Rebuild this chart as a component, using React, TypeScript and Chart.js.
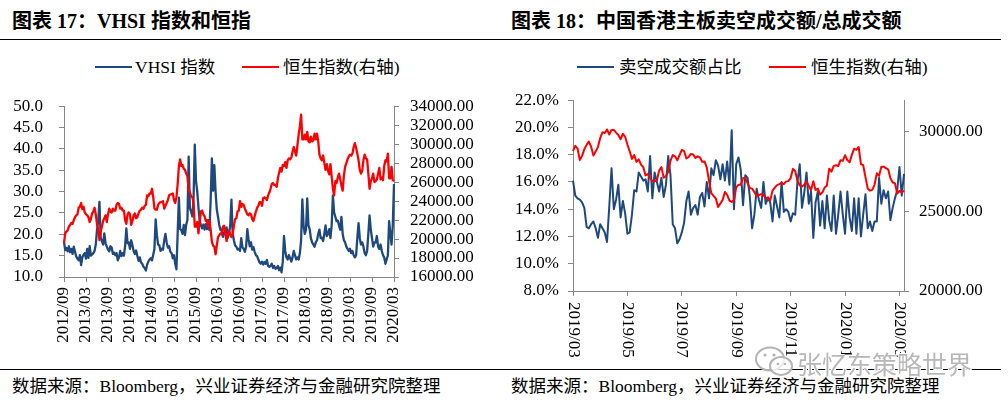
import React, { useEffect, useRef } from "react";
import { Chart, registerables } from "chart.js";

Chart.register(...registerables);

// ---------- colours / fonts ----------
const BLUE = "#1F497D";
const RED = "#FF0000";
const AXIS = "#868686";
const SERIF = "'Liberation Serif', 'Times New Roman', serif";
const MIXED = "'Liberation Serif', 'Noto Sans CJK SC', sans-serif";

// ---------- chart 17 : VHSI & HSI (3 readings per month, 2012/09 .. 2020/03) ----------
const leftTickLabels = [
  "2012/09", "2013/03", "2013/09", "2014/03", "2014/09", "2015/03", "2015/09", "2016/03",
  "2016/09", "2017/03", "2017/09", "2018/03", "2018/09", "2019/03", "2019/09", "2020/03",
];

const vhsi = [
  18.2, 16.3, 16.8, 16.0, 17.2, 15.8, 16.6, 15.4, 17.1, 15.9, 14.8, 14.3,
  13.9, 15.1, 12.8, 14.6, 15.2, 15.6, 14.3, 16.6, 14.5, 17.2, 15.0, 15.3,
  15.6, 16.1, 17.6, 21.0, 23.2, 27.6, 19.2, 18.4, 17.6, 20.2, 17.9, 17.1,
  16.4, 16.0, 17.2, 16.9, 15.4, 15.7, 15.1, 15.6, 13.9, 14.6, 16.1, 14.9,
  15.6, 15.0, 17.2, 21.4, 17.9, 18.1, 16.6, 18.6, 17.4, 16.1, 15.4, 16.2,
  14.9, 13.8, 14.6, 13.4, 13.1, 12.4, 12.1, 11.5, 12.9, 13.6, 14.1, 14.4,
  13.9, 15.2, 16.6, 23.5, 19.8, 17.6, 17.4, 16.1, 16.6, 16.4, 18.6, 20.1,
  18.1, 16.9, 17.2, 15.9, 15.6, 14.4, 15.1, 13.1, 11.8, 20.3, 28.6, 21.2,
  21.0, 20.1, 22.2, 19.8, 22.3, 23.4, 38.2, 26.1, 25.3, 24.2, 28.4, 41.0,
  32.5, 30.1, 26.3, 23.2, 22.1, 21.4, 22.3, 21.1, 22.4, 21.2, 23.3, 21.0,
  28.1, 37.8, 30.2, 36.2, 30.0, 25.8, 24.1, 22.2, 21.0, 21.1, 19.4, 20.2,
  21.2, 21.6, 19.2, 20.1, 22.1, 28.1, 20.2, 18.6, 17.4, 17.1, 16.4, 16.6,
  16.1, 19.1, 17.0, 16.6, 15.9, 17.1, 21.2, 18.8, 17.2, 18.1, 16.4, 17.0,
  15.9, 15.1, 14.9, 14.1, 13.4, 13.1, 13.6, 12.9, 13.5, 13.1, 14.0, 12.6,
  12.4, 12.6, 13.1, 12.1, 12.6, 11.9, 12.1, 12.6, 11.6, 12.2, 11.1, 13.6,
  19.6, 16.1, 14.6, 14.1, 15.1, 14.4, 13.6, 14.6, 16.1, 15.1, 14.1, 14.6,
  14.1, 15.6, 18.6, 28.2, 22.1, 20.1, 21.1, 28.4, 22.1, 21.2, 19.1, 18.1,
  17.6, 17.1, 18.1, 18.6, 20.1, 21.1, 19.1, 19.2, 18.4, 20.1, 22.1, 19.6,
  20.1, 21.2, 19.1, 22.1, 29.1, 25.1, 24.1, 23.1, 23.2, 22.1, 21.1, 24.1,
  20.1, 18.6, 18.1, 17.1, 16.6, 16.1, 16.6, 15.6, 16.1, 15.1, 14.6, 15.1,
  19.1, 22.6, 19.1, 17.6, 18.1, 17.1, 15.6, 15.1, 16.1, 20.1, 24.4, 21.1,
  19.1, 17.1, 18.1, 18.1, 19.6, 17.1, 16.6, 17.6, 16.1, 15.1, 14.6, 13.1,
  14.1, 15.1, 23.1, 20.1, 17.6, 22.1, 31.8,
];

const hsiLong = [
  19600, 20600, 20800, 20900, 21300, 21500, 21700, 21600, 22000, 22300, 22500, 22600,
  23300, 23400, 23800, 23150, 23400, 22800, 22600, 22500, 22300, 21800, 22100, 22700,
  22900, 23300, 22600, 21600, 21000, 19900, 20800, 21300, 21900, 22200, 22500, 21800,
  22600, 23200, 22900, 22800, 23200, 23000, 23000, 23600, 23800, 23700, 23200, 23300,
  23000, 23000, 22000, 21600, 22600, 22800, 22600, 21500, 21900, 22500, 22700, 22200,
  22300, 22700, 23000, 23100, 23300, 23200, 23500, 23600, 24600, 24500, 24800, 24800,
  25300, 24400, 23200, 23100, 23100, 23600, 23800, 23900, 23900, 24000, 23200, 23500,
  23800, 24100, 24600, 24700, 24700, 24800, 24100, 23800, 24400, 25800, 27700, 28400,
  27700, 27800, 27400, 27300, 26900, 26600, 25200, 24900, 24500, 24400, 23900, 21300,
  21300, 21800, 20600, 21800, 22900, 23000, 22600, 22400, 21900, 22000, 21300, 21900,
  21000, 19700, 19300, 19200, 18400, 19300, 20200, 20400, 20600, 20500, 21300, 21400,
  20600, 19800, 20500, 20900, 20500, 20200, 20500, 21400, 22100, 22200, 22900, 23000,
  24000, 23400, 23700, 23600, 23200, 22900, 22600, 22500, 22700, 22600, 22100, 21900,
  22400, 22900, 23300, 23500, 23900, 23900, 23500, 24300, 24400, 24300, 24100, 24600,
  24900, 25300, 25800, 25900, 25700, 25700, 25500, 26400, 27000, 27500, 27100, 27800,
  27700, 28100, 27500, 28300, 28500, 28400, 28600, 29200, 29700, 29200, 28800, 29900,
  31000, 31900, 33100, 30500, 30500, 31000, 30500, 31300, 30300, 30200, 30800, 30300,
  30400, 31100, 30500, 31100, 30300, 28900, 28500, 28300, 28800, 28000, 27300, 27900,
  27200, 26800, 27900, 26600, 25300, 24600, 26100, 25900, 26500, 26900, 26300, 25600,
  25100, 26700, 27600, 28000, 28400, 28700, 28900, 28800, 29000, 29700, 30100, 29600,
  29000, 28300, 27300, 26900, 27200, 28300, 28900, 28500, 28400, 26900, 25300, 26100,
  26400, 26900, 26000, 26100, 26300, 26900, 27500, 26300, 26500, 26200, 27700, 28300,
  28200, 29000, 26400, 26400, 27600, 26200, 26100,
];

// ---------- chart 18 : short-selling share & HSI (12 readings per month, 2019/03 .. 2020/03) ----------
const rightTickLabels = ["2019/03", "2019/05", "2019/07", "2019/09", "2019/11", "2020/01", "2020/03"];

const shortRatio = [
  16.1, 15.0, 14.8, 14.7, 14.5, 14.1, 12.7, 12.6, 12.9, 13.1, 12.6, 11.9,
  12.9, 12.6, 12.3, 11.6, 14.2, 17.0, 14.0, 14.7, 15.8, 13.4, 14.6, 13.7,
  12.2, 12.3, 13.6, 15.4, 15.3, 16.7, 16.4, 16.1, 16.2, 15.3, 17.9, 14.8,
  16.7, 16.0, 15.3, 16.3, 14.9, 15.8, 17.9, 16.5, 12.9, 12.6, 11.5, 11.8,
  12.3, 13.0, 14.6, 15.3, 13.6, 14.1, 14.3, 13.6, 14.9, 15.2, 14.2, 16.0,
  14.8, 17.0, 16.5, 17.6, 17.2, 16.2, 17.3, 16.1, 17.5, 15.8, 19.8, 14.0,
  17.3, 17.8, 16.9, 14.3, 16.5, 16.3, 14.9, 12.6, 13.6, 15.5, 14.7, 14.1,
  16.0, 14.4, 14.8, 14.5, 13.1, 15.0, 14.2, 13.4, 16.0, 13.8, 14.0, 13.8,
  13.1, 13.7, 13.6, 16.0, 17.3, 14.1, 15.2, 16.7, 14.4, 15.3, 11.9, 14.5,
  15.3, 12.8, 14.6, 12.6, 15.0, 13.2, 12.4, 15.0, 12.2, 13.6, 15.3, 13.6,
  12.2, 15.3, 13.4, 12.4, 14.8, 12.2, 14.8, 12.0, 13.6, 15.1, 12.6, 13.1,
  12.4, 13.1, 13.1, 16.3, 14.4, 15.4, 14.8, 15.3, 13.2, 14.1, 14.8, 15.4,
  17.1, 15.0, 16.6,
];

const hsiShort = [
  28810, 29130, 28960, 28230, 28500, 28920, 29190, 29400, 29070, 28520, 28780, 29050,
  29620, 29990, 29940, 30160, 29840, 30130, 30130, 29960, 29810, 29550, 29890, 29700,
  29210, 28790, 28310, 28550, 28120, 28280, 27950, 27790, 27270, 27350, 27110, 26900,
  26890, 26960, 27580, 27790, 27120, 27230, 27500, 28200, 28550, 28470, 28220, 28540,
  28880, 28800, 28330, 28430, 28620, 28590, 28370, 28470, 28400, 28130, 28150, 27780,
  26920, 26150, 25980, 25820, 25280, 25500, 25730, 26230, 26050, 25680, 25600, 25720,
  26520, 26690, 26680, 27090, 27120, 26790, 26470, 26440, 26220, 25960, 26040, 26090,
  26040, 25820, 25890, 25700, 26310, 26500, 26660, 26720, 26800, 26720, 26890, 26910,
  27100, 27680, 27550, 26930, 26650, 26570, 26680, 26890, 26600, 26350, 26900, 26350,
  26440, 26060, 26210, 26500, 26640, 27690, 27510, 27870, 27910, 27860, 28230, 28190,
  28540, 28230, 28090, 28560, 28950, 28880, 29060, 27980, 27910, 27160, 26450, 26310,
  26360, 26680, 27400, 27240, 27820, 27820, 27730, 27650, 27100, 26820, 26780, 26130,
  26290, 26220, 26300,
];

const LEFT_STEP = 18; // readings between two left tick labels
const RIGHT_STEP = 24; // readings between two right tick labels

// ---------- helpers ----------
const tickFont = { family: SERIF, size: 17 };

function axisY(position: "left" | "right", min: number, max: number, step: number, decimals: number, suffix: string, padding: number, width: number, fixedTicks?: number[]) {
  return {
    type: "linear" as const,
    position,
    min,
    max,
    ticks: {
      stepSize: step,
      autoSkip: false,
      padding,
      color: "#000",
      font: tickFont,
      callback: (v: any) => Number(v).toFixed(decimals) + suffix,
    },
    grid: { drawOnChartArea: false, drawTicks: true, tickLength: 5, color: AXIS, lineWidth: 1 },
    border: { display: true, color: AXIS, width: 1 },
    afterBuildTicks: fixedTicks
      ? (s: any) => {
          s.ticks = fixedTicks.map((v) => ({ value: v }));
        }
      : undefined,
    afterFit: (s: any) => {
      s.width = width;
    },
  };
}

const verticalDownLabels = {
  id: "verticalDownLabels",
  afterDraw(chart: any) {
    const sc = chart.scales.x;
    const ctx = chart.ctx;
    ctx.save();
    ctx.font = `17px ${SERIF}`;
    ctx.fillStyle = "#000";
    ctx.textAlign = "left";
    ctx.textBaseline = "middle";
    sc.ticks.forEach((t: any, k: number) => {
      const x = sc.getPixelForValue(t.value);
      ctx.save();
      ctx.translate(x, chart.chartArea.bottom + 11);
      ctx.rotate(Math.PI / 2);
      ctx.fillText(rightTickLabels[k], 0, 0);
      ctx.restore();
    });
    ctx.restore();
  },
};

function LeftChart() {
  const ref = useRef<HTMLCanvasElement>(null);
  useEffect(() => {
    const chart = new Chart(ref.current!, {
      type: "line",
      data: {
        labels: vhsi.map((_, i) => String(i)),
        datasets: [
          { label: "VHSI 指数", data: vhsi, borderColor: BLUE, backgroundColor: BLUE, borderWidth: 2.3, pointRadius: 0, yAxisID: "y", order: 1, borderJoinStyle: "round" },
          { label: "恒生指数(右轴)", data: hsiLong, borderColor: RED, backgroundColor: RED, borderWidth: 2.3, pointRadius: 0, yAxisID: "y1", order: 0, borderJoinStyle: "round" },
        ],
      },
      options: {
        animation: false,
        responsive: false,
        events: [],
        layout: { padding: { top: 17, left: 0, right: 0, bottom: 0 } },
        plugins: { legend: { display: false }, tooltip: { enabled: false } },
        scales: {
          x: {
            type: "category",
            offset: false,
            grid: { drawOnChartArea: false, drawTicks: true, tickLength: 5, color: AXIS },
            border: { display: true, color: AXIS },
            ticks: {
              autoSkip: false,
              minRotation: 90,
              maxRotation: 90,
              padding: 5,
              color: "#000",
              font: tickFont,
              callback: (v: any) => leftTickLabels[Math.round(Number(v) / LEFT_STEP)] ?? "",
            },
            afterBuildTicks: (s: any) => {
              s.ticks = leftTickLabels.map((_, k) => ({ value: k * LEFT_STEP }));
            },
            afterFit: (s: any) => {
              s.height = 88;
            },
          },
          y: axisY("left", 10, 50, 5, 1, "", 16, 64),
          y1: axisY("right", 16000, 34000, 2000, 2, "", 11, 110),
        } as any,
      },
    } as any);
    return () => chart.destroy();
  }, []);
  return <canvas ref={ref} width={504} height={285} style={{ width: 504, height: 285, display: "block" }} />;
}

function RightChart() {
  const ref = useRef<HTMLCanvasElement>(null);
  useEffect(() => {
    const chart = new Chart(ref.current!, {
      type: "line",
      data: {
        labels: shortRatio.map((_, i) => String(i)),
        datasets: [
          { label: "卖空成交额占比", data: shortRatio, borderColor: BLUE, backgroundColor: BLUE, borderWidth: 2, pointRadius: 0, yAxisID: "y", order: 1, borderJoinStyle: "round" },
          { label: "恒生指数(右轴)", data: hsiShort, borderColor: RED, backgroundColor: RED, borderWidth: 2, pointRadius: 0, yAxisID: "y1", order: 0, borderJoinStyle: "round" },
        ],
      },
      options: {
        animation: false,
        responsive: false,
        events: [],
        layout: { padding: { top: 17, left: 0, right: 0, bottom: 0 } },
        plugins: { legend: { display: false }, tooltip: { enabled: false } },
        scales: {
          x: {
            type: "category",
            offset: false,
            grid: { drawOnChartArea: false, drawTicks: true, tickLength: 5, color: AXIS },
            border: { display: true, color: AXIS },
            ticks: { display: false, autoSkip: false },
            afterBuildTicks: (s: any) => {
              s.ticks = rightTickLabels.map((_, k) => ({ value: k * RIGHT_STEP }));
            },
            afterFit: (s: any) => {
              s.height = 74;
            },
          },
          y: axisY("left", 8, 22, 2, 1, "%", 9, 69),
          y1: axisY("right", 20000, 32000, 5000, 2, "", 10, 104, [20000, 25000, 30000]),
        } as any,
      },
      plugins: [verticalDownLabels],
    } as any);
    return () => chart.destroy();
  }, []);
  return <canvas ref={ref} width={504} height={285} style={{ width: 504, height: 285, display: "block" }} />;
}

const abs = (l: number, t: number, extra: React.CSSProperties = {}): React.CSSProperties => ({
  position: "absolute",
  left: l,
  top: t,
  whiteSpace: "nowrap",
  ...extra,
});

function LegendItem({ x, y, textX, color, text }: { x: number; y: number; textX: number; color: string; text: string }) {
  return (
    <>
      <div style={abs(x, y - 1.25, { width: 37, height: 2.5, background: color })} />
      <div style={abs(textX, y - 11, { fontFamily: MIXED, fontSize: 17.5, lineHeight: "22px", color: "#000" })}>{text}</div>
    </>
  );
}

export default function App() {
  const titleStyle: React.CSSProperties = { fontFamily: MIXED, fontSize: 20, fontWeight: 700, lineHeight: "22px", color: "#000" };
  const sourceStyle: React.CSSProperties = { fontFamily: MIXED, fontSize: 17.5, lineHeight: "22px", color: "#000" };
  return (
    <div style={{ position: "absolute", left: 0, top: 0, width: 1008, height: 409, background: "#fff", overflow: "hidden" }}>
      <div style={abs(0, 80)}>
        <LeftChart />
      </div>
      <div style={abs(504, 80)}>
        <RightChart />
      </div>

      <div style={abs(12, 10, titleStyle)}>图表 17：VHSI 指数和恒指</div>
      <div style={abs(511, 10, titleStyle)}>图表 18：中国香港主板卖空成交额/总成交额</div>
      <div style={abs(0, 39, { width: 1001, height: 1, background: "#000" })} />

      <LegendItem x={95} y={67} textX={135} color={BLUE} text="VHSI 指数" />
      <LegendItem x={242} y={67} textX={283} color={RED} text="恒生指数(右轴)" />
      <LegendItem x={577} y={67} textX={619} color={BLUE} text="卖空成交额占比" />
      <LegendItem x={769} y={67} textX={811} color={RED} text="恒生指数(右轴)" />

      <div style={abs(0, 369, { width: 1001, height: 1, background: "#000" })} />
      <div style={abs(12, 375, sourceStyle)}>数据来源：Bloomberg，兴业证券经济与金融研究院整理</div>
      <div style={abs(511, 375, sourceStyle)}>数据来源：Bloomberg，兴业证券经济与金融研究院整理</div>

      <svg style={abs(754, 344)} width={42} height={36} viewBox="0 0 42 36">
        <ellipse cx={16} cy={15} rx={14} ry={11.5} fill="rgba(255,255,255,0.6)" stroke="#b4b4b4" strokeWidth={2} />
        <ellipse cx={27} cy={22} rx={11} ry={9} fill="rgba(255,255,255,0.75)" stroke="#b4b4b4" strokeWidth={2} />
        <circle cx={11} cy={11} r={1.6} fill="#b4b4b4" />
        <circle cx={20} cy={11} r={1.6} fill="#b4b4b4" />
        <circle cx={24} cy={20} r={1.3} fill="#b4b4b4" />
        <circle cx={31} cy={20} r={1.3} fill="#b4b4b4" />
      </svg>
      <div
        style={abs(797, 348, {
          fontFamily: "'Noto Sans CJK SC', sans-serif",
          fontSize: 25,
          lineHeight: "30px",
          color: "#b8b8b8",
          textShadow: "1px 0 0 #fff, -1px 0 0 #fff, 0 1px 0 #fff, 0 -1px 0 #fff, 1px 1px 0 #fff, -1px -1px 0 #fff",
        })}
      >
        张忆东策略世界
      </div>
    </div>
  );
}
